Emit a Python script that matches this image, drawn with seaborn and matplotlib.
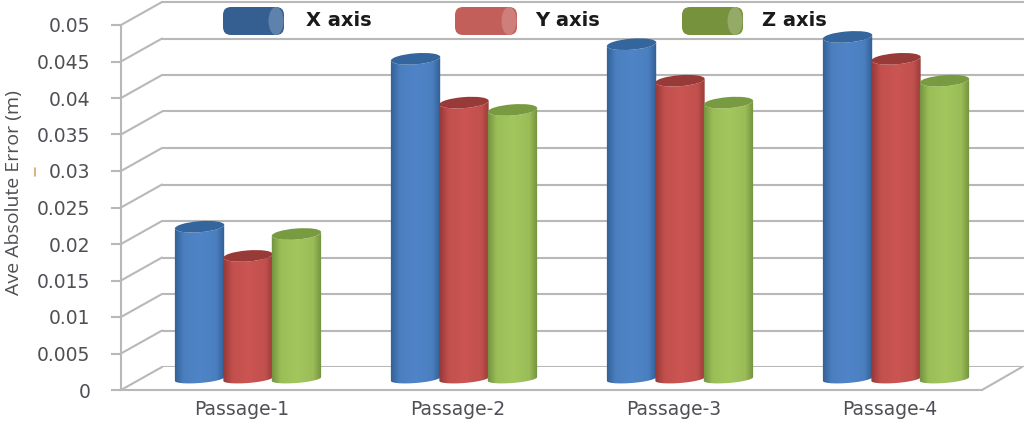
import numpy as np
import pandas as pd
import matplotlib
matplotlib.use("Agg")
import matplotlib.pyplot as plt
from matplotlib.patches import Ellipse, FancyBboxPatch, PathPatch
from matplotlib.path import Path
from matplotlib.colors import to_rgb
import seaborn as sns

passages = ["Passage-1", "Passage-2", "Passage-3", "Passage-4"]
x_axis = [0.021, 0.044, 0.046, 0.047]
y_axis = [0.017, 0.038, 0.041, 0.044]
z_axis = [0.020, 0.037, 0.038, 0.041]
series_names = ["X axis", "Y axis", "Z axis"]
y_ticks = [0, 0.005, 0.01, 0.015, 0.02, 0.025, 0.03, 0.035, 0.04, 0.045, 0.05]
y_tick_labels = ["0", "0.005", "0.01", "0.015", "0.02", "0.025", "0.03", "0.035", "0.04", "0.045", "0.05"]
y_title = "Ave Absolute Error (m)"

W, H = 1024, 422
GRID = "#b8b8b8"
TEXT = "#4f4f55"
colors = ["#4f85c8", "#cb5552", "#a3c65d"]
side = ["#2f5b8e", "#8f3634", "#6c8a3a"]
tops = ["#34659c", "#973a38", "#789a40"]
legend_body = ["#365f91", "#c25f5b", "#76923c"]
legend_cap = ["#5f82ad", "#cf7f7b", "#93ab66"]

sns.set_theme(style="white")
plt.rcParams["font.family"] = ["DejaVu Sans"]

df = pd.DataFrame({"passage": passages, "X axis": x_axis, "Y axis": y_axis, "Z axis": z_axis})
df = df.melt(id_vars="passage", var_name="axis", value_name="error")


def px_axes(fig, left, top, right, bottom, **kw):
    return fig.add_axes([left / W, 1 - bottom / H, (right - left) / W, (bottom - top) / H], **kw)


fig = plt.figure(figsize=(W / 100, H / 100), dpi=100)

# back wall with the grid
wall = px_axes(fig, 162, 2, 1024, 367)
wall.set_ylim(0, 0.05)
wall.set_yticks(y_ticks)
wall.set_xticks([])
wall.tick_params(left=False, labelleft=False)
wall.grid(axis="y", color=GRID, lw=1.5)
wall.get_ygridlines()[-1].set_clip_on(False)
sns.despine(ax=wall, left=True, bottom=True)

# front axis, this one has the labels
front = px_axes(fig, 121, 25, 982, 390)
front.patch.set_alpha(0)
front.set_ylim(0, 0.05)
front.set_xlim(-0.56, 3.426)
front.set_yticks(y_ticks)
front.set_yticklabels(y_tick_labels, fontsize=13.5, color=TEXT)
front.set_xticks(range(len(passages)))
front.set_xticklabels(passages, fontsize=13.5, color=TEXT)
front.tick_params(axis="y", left=True, length=7, width=1.5, color=GRID, pad=15)
front.tick_params(axis="x", bottom=False, pad=1)
sns.despine(ax=front, top=True, right=True)
for s in ["left", "bottom"]:
    front.spines[s].set_color(GRID)
    front.spines[s].set_linewidth(1.5)

# pixel overlay for the 3d parts
over = px_axes(fig, 0, 0, W, H)
over.set_xlim(0, W)
over.set_ylim(H, 0)
over.axis("off")
over.patch.set_alpha(0)

# wall side diagonals, one per tick
for t in y_ticks:
    y_f = front.transData.transform((0, t))[1]
    y_w = wall.transData.transform((0, t))[1]
    over.plot([121, 162], [H - y_f, H - y_w], color=GRID, lw=1.5, solid_capstyle="round")
over.plot([982, 1022], [390, 367], color=GRID, lw=1.5)

# bars
bars = px_axes(fig, 140, 15, 1004, 380)
bars.patch.set_alpha(0)
sns.barplot(data=df, x="passage", y="error", hue="axis", hue_order=series_names,
            palette=colors, width=0.673, gap=0, legend=False, ax=bars)
bars.set_xlim(-0.5, 3.5)
bars.set_ylim(0, 0.05)
bars.axis("off")


def ellipse_arc(a, b, tilt):
    t = np.linspace(np.pi, 0, 30)
    ex = a * np.cos(t)
    ey = b * np.sin(t)
    return ex * np.cos(tilt) - ey * np.sin(tilt), ex * np.sin(tilt) + ey * np.cos(tilt)


def draw_cylinder(bar, idx, z):
    (x0, y1) = bars.transData.transform((bar.get_x(), 0))
    (x1, y0) = bars.transData.transform((bar.get_x() + bar.get_width(), bar.get_height()))
    y0, y1 = H - y0, H - y1
    a = (x1 - x0) / 2 + 0.5
    cx = (x0 + x1) / 2
    tilt = np.radians(-4.5)
    lx, ly = ellipse_arc(a, 4, tilt)
    ux, uy = ellipse_arc(a, 5.5, tilt)
    low = np.c_[cx + lx, y1 - 1 + ly]
    up = np.c_[cx + ux[::-1], y0 + uy[::-1]]
    pts = np.r_[low, up, low[:1]]
    codes = [Path.MOVETO] + [Path.LINETO] * (len(pts) - 2) + [Path.CLOSEPOLY]
    clip = PathPatch(Path(pts, codes), fc="none", ec="none", zorder=z)
    over.add_patch(clip)
    # left to right shading of the tube
    u = np.linspace(0, 1, 128)
    k = np.interp(u, [0, 0.2, 0.5, 0.82, 1], [0, 0.85, 1, 0.85, 0])[None, :, None]
    grad = np.array(to_rgb(side[idx]))[None, None, :] * (1 - k) + np.array(to_rgb(colors[idx]))[None, None, :] * k
    im = over.imshow(grad, extent=(x0 - 2, x1 + 2, y1 + 10, y0 - 10), aspect="auto", zorder=z)
    im.set_clip_path(clip)
    over.add_patch(Ellipse((cx, y0), 2 * a, 11, angle=np.degrees(tilt), fc=tops[idx], ec="none", zorder=z + 0.1))


n = len(passages)
for i, bar in enumerate(bars.patches[:3 * n]):
    draw_cylinder(bar, i // n, 3 + (i % n) * 10 + i // n)
over.set_xlim(0, W)
over.set_ylim(H, 0)
for p in bars.patches:
    p.set_visible(False)

# legend drawn as lying cylinders
legend_x = [(223, 284), (455, 517), (682, 743)]
text_x = [306, 535, 762]
for i, name in enumerate(series_names):
    l, r = legend_x[i]
    over.add_patch(FancyBboxPatch((l + 8, 15), r - l - 16, 12, boxstyle="round,pad=8", fc=legend_body[i],
                                  ec="none", zorder=60))
    over.add_patch(Ellipse((r - 8, 21), 15, 28, fc=legend_cap[i], ec="none", zorder=61))
    over.text(text_x[i], 20.5, name, fontsize=14, fontweight="bold", color="#1a1a1a", va="center", ha="left", zorder=62)

over.text(14, 193, y_title, rotation=90, fontsize=14, color=TEXT, family="Open Sans", ha="center", va="center")
over.plot([35, 35], [168, 176], color="#d9a36a", lw=1.2)

fig.savefig("out.png", dpi=100)
